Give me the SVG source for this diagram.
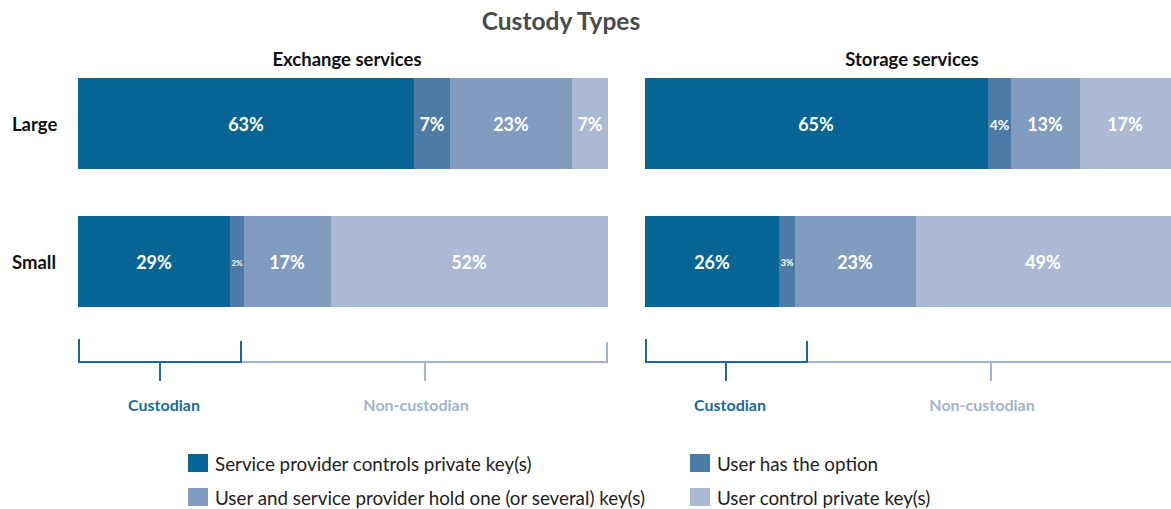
<svg xmlns="http://www.w3.org/2000/svg" width="1171" height="509" viewBox="0 0 1171 509">
<style>
text{font-family:Lato,"Liberation Sans",sans-serif}
.title{font-size:24.5px;font-weight:bold;fill:#4a4a4a;text-anchor:middle}
.sub{font-size:18.5px;font-weight:bold;fill:#111;text-anchor:middle}
.row{font-size:18.5px;font-weight:bold;fill:#111}
.pct{font-size:18px;font-weight:bold;fill:#fff;text-anchor:middle}
.c1{fill:#066595}.c2{fill:#4b7ba6}.c3{fill:#829cbf}.c4{fill:#acb9d4}
.bc{stroke:#1a6a9a;stroke-width:2;fill:none}
.bn{stroke:#a3b3cf;stroke-width:2;fill:none}
.lc{font-size:16px;font-weight:bold;fill:#1a6a9a;text-anchor:middle}
.ln{font-size:16px;font-weight:bold;fill:#a3b3cf;text-anchor:middle}
.leg{font-size:18.8px;fill:#222}
</style>
<rect width="1171" height="509" fill="#fff"/>
<text class="title" x="561" y="30">Custody Types</text>
<text class="sub" x="347" y="66">Exchange services</text>
<text class="sub" x="912" y="66">Storage services</text>
<text class="row" x="12" y="131">Large</text>
<text class="row" x="12" y="269">Small</text>

<g id="ex-large">
<rect class="c1" x="78" y="78" width="336" height="91"/>
<rect class="c2" x="414" y="78" width="36" height="91"/>
<rect class="c3" x="450" y="78" width="122" height="91"/>
<rect class="c4" x="572" y="78" width="36" height="91"/>
<text class="pct" x="246" y="131">63%</text>
<text class="pct" x="432" y="131">7%</text>
<text class="pct" x="511" y="131">23%</text>
<text class="pct" x="590" y="131">7%</text>
</g>
<g id="ex-small">
<rect class="c1" x="78" y="216" width="152" height="91"/>
<rect class="c2" x="230" y="216" width="14" height="91"/>
<rect class="c3" x="244" y="216" width="87" height="91"/>
<rect class="c4" x="331" y="216" width="277" height="91"/>
<text class="pct" x="154" y="269">29%</text>
<text class="pct" x="237" y="266" style="font-size:8px">2%</text>
<text class="pct" x="287" y="269">17%</text>
<text class="pct" x="469" y="269">52%</text>
</g>
<g id="st-large">
<rect class="c1" x="645" y="78" width="343" height="91"/>
<rect class="c2" x="988" y="78" width="23" height="91"/>
<rect class="c3" x="1011" y="78" width="69" height="91"/>
<rect class="c4" x="1080" y="78" width="91" height="91"/>
<text class="pct" x="816" y="131">65%</text>
<text class="pct" x="999.5" y="130" style="font-size:14px">4%</text>
<text class="pct" x="1045" y="131">13%</text>
<text class="pct" x="1125" y="131">17%</text>
</g>
<g id="st-small">
<rect class="c1" x="645" y="216" width="134" height="91"/>
<rect class="c2" x="779" y="216" width="16" height="91"/>
<rect class="c3" x="795" y="216" width="121" height="91"/>
<rect class="c4" x="916" y="216" width="255" height="91"/>
<text class="pct" x="712" y="269">26%</text>
<text class="pct" x="787" y="266" style="font-size:9px">3%</text>
<text class="pct" x="855" y="269">23%</text>
<text class="pct" x="1043" y="269">49%</text>
</g>

<g id="brackets">
<path class="bn" d="M242 362 H607 V342 M425 362 V381"/>
<path class="bc" d="M79 339 V362 H241 V341 M160 362 V381"/>
<path class="bn" d="M808 362 H1171 M991 362 V381"/>
<path class="bc" d="M646 339 V362 H807 V341 M726 362 V381"/>
<text class="lc" x="164" y="411">Custodian</text>
<text class="ln" x="416" y="411">Non-custodian</text>
<text class="lc" x="730" y="411">Custodian</text>
<text class="ln" x="982" y="411">Non-custodian</text>
</g>

<g id="legend">
<rect class="c1" x="188" y="454" width="20" height="18"/>
<text class="leg" x="215" y="471">Service provider controls private key(s)</text>
<rect class="c3" x="188" y="488" width="20" height="18"/>
<text class="leg" x="215" y="505">User and service provider hold one (or several) key(s)</text>
<rect class="c2" x="690" y="454" width="20" height="18"/>
<text class="leg" x="717" y="471">User has the option</text>
<rect class="c4" x="690" y="488" width="20" height="18"/>
<text class="leg" x="717" y="505">User control private key(s)</text>
</g>
</svg>
